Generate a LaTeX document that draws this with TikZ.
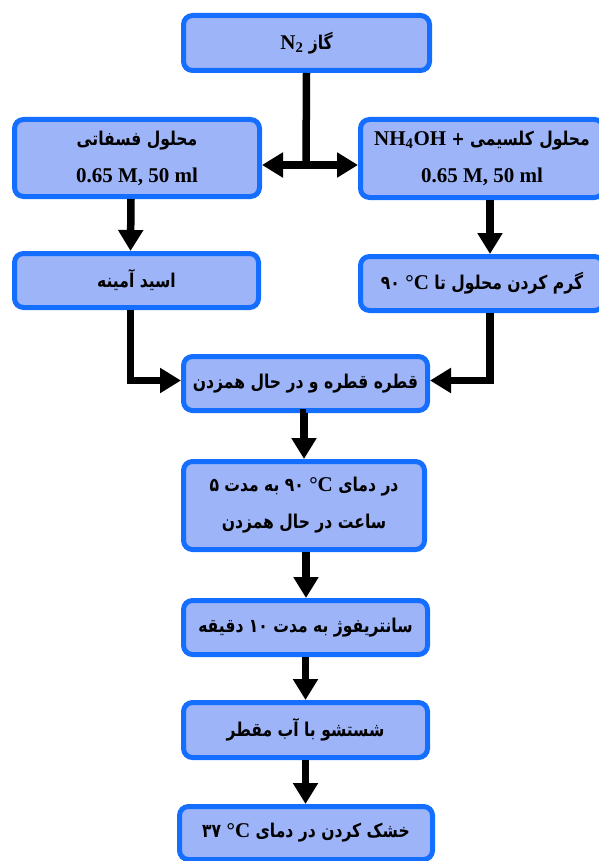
\documentclass[tikz,border=0pt]{standalone}
\usepackage{fontspec}
\setmainfont{Liberation Serif}
\newfontfamily\fa[Script=Arabic,FakeStretch=0.82]{DejaVu Sans}
\TeXXeTstate=1
\usetikzlibrary{arrows.meta}
\definecolor{bbord}{RGB}{20,110,255}
\definecolor{bfill}{RGB}{158,180,248}
\newcommand\lat[1]{\beginL{\rmfamily\bfseries\fontsize{21}{37}\selectfont #1}\endL}
\newcommand\fnum[1]{\beginL #1\endL}
\newcommand\rtl[1]{{\fa\bfseries\fontsize{19}{37}\selectfont\beginR #1\endR}}
\begin{document}
\begin{tikzpicture}[x=1pt,y=-1pt,
  box/.style={draw=bbord, line width=5pt, fill=bfill, rounded corners=9pt,
    inner sep=0pt, align=center, font=\bfseries\fontsize{21}{37}\selectfont},
  >={Triangle[width=24pt,length=21pt]},
  plain/.style={line width=7.5pt}]
\useasboundingbox (0,0) rectangle (598,861);

\node[box, minimum width=246pt, minimum height=55pt] (n2) at (306.5,43)
  {\rtl{گاز \lat{N\textsubscript{2}}}};
\node[box, minimum width=245pt, minimum height=77pt] (lb1) at (137,158)
  {\rtl{محلول فسفاتی}\\0.65 M, 50 ml};
\node[box, minimum width=243pt, minimum height=78pt] (rb1) at (482,158.5)
  {\rtl{محلول کلسیمی + \lat{NH\textsubscript{4}OH}}\\0.65 M, 50 ml};
\node[box, minimum width=244pt, minimum height=54pt] (lb2) at (136.5,280.5)
  {\rtl{اسید آمینه}};
\node[box, minimum width=243pt, minimum height=54pt] (rb2) at (482,283.5)
  {\rtl{گرم کردن محلول تا \lat{°C} \fnum{۹۰}}};
\node[box, minimum width=244pt, minimum height=54pt] (mid) at (305.5,383.5)
  {\rtl{قطره قطره و در حال همزدن}};
\node[box, minimum width=241pt, minimum height=88pt] (temp) at (304,505.5)
  {\rtl{در دمای \lat{°C} \fnum{۹۰} به مدت \fnum{۵}}\\\rtl{ساعت در حال همزدن}};
\node[box, minimum width=244pt, minimum height=54pt] (cent) at (305.5,627.5)
  {\rtl{سانتریفوژ به مدت \fnum{۱۰} دقیقه}};
\node[box, minimum width=244pt, minimum height=55pt] (wash) at (305.5,730)
  {\rtl{شستشو با آب مقطر}};
\node[box, minimum width=253pt, minimum height=53pt] (dry) at (306,833)
  {\rtl{خشک کردن در دمای \lat{°C} \fnum{۳۷}}};

\coordinate (j) at (306,165);
\draw[plain] (n2.south) -- (j);
\draw[plain,<->] (j -| lb1.east) -- (j -| rb1.west);
\draw[plain,->] ([xshift=-6pt]lb1.south) -- ([xshift=-6pt]lb2.north);
\draw[plain,->] ([xshift=8pt]rb1.south) -- ([xshift=8pt]rb2.north);
\draw[plain,->] ([xshift=-6pt]lb2.south) |- ([yshift=3pt]mid.west);
\draw[plain,->] ([xshift=8pt]rb2.south) |- ([yshift=3pt]mid.east);
\draw[plain,->] (mid.south) -- (temp.south |- mid.south) -- (temp.north);
\draw[plain,->] ([xshift=2pt]temp.south) -- ([xshift=2pt]temp.south |- cent.north);
\draw[plain,->] (cent.south) -- (wash.north);
\draw[plain,->] (wash.south) -- (wash.south |- dry.north);
\end{tikzpicture}
\end{document}
